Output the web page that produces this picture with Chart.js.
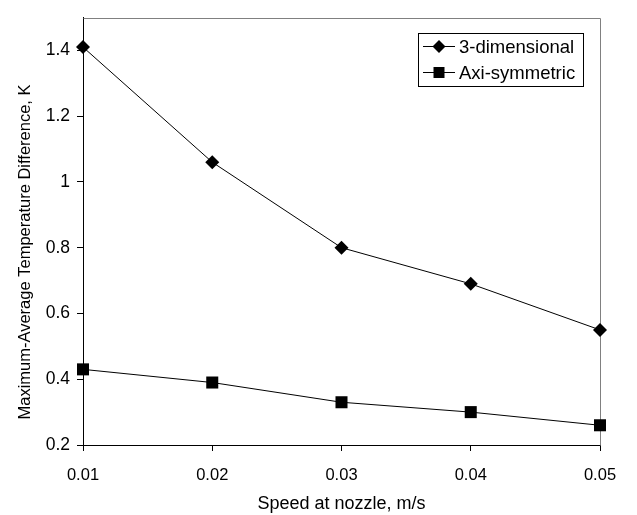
<!DOCTYPE html>
<html>
<head>
<meta charset="utf-8">
<script src="https://cdn.jsdelivr.net/npm/chart.js@4.4.0/dist/chart.umd.min.js"></script>
<style>
  html, body { margin: 0; padding: 0; background: #fff; }
  #wrap { width: 637px; height: 515px; }
</style>
</head>
<body>
<div id="wrap"><canvas id="myLineChart" width="637" height="515"></canvas></div>
<script>
// chart values
const speeds = [0.01, 0.02, 0.03, 0.04, 0.05];
const three_dim = [1.41, 1.06, 0.80, 0.69, 0.55];
const axi_sym = [0.43, 0.39, 0.33, 0.30, 0.26];
const series_names = ['3-dimensional', 'Axi-symmetric'];
const x_title = 'Speed at nozzle, m/s';
const y_title = 'Maximum-Average Temperature Difference, K';

const FONT = "'Liberation Sans', Arial, sans-serif";

function to_points(xs, ys) {
    return xs.map((x, i) => ({ x: x, y: ys[i] }));
}

// excel style numbers: 1 instead of 1.0
function short_number(val) {
    return String(parseFloat(Number(val).toFixed(4)));
}

// gray top/right frame of the plot area
const frame_plugin = {
    id: 'frame',
    beforeDatasetsDraw(chart) {
        const { ctx, chartArea: a } = chart;
        ctx.save();
        ctx.strokeStyle = '#808080';
        ctx.lineWidth = 1;
        ctx.beginPath();
        ctx.moveTo(Math.round(a.left) + 0.5, Math.round(a.top) + 0.5);
        ctx.lineTo(Math.round(a.right) + 0.5, Math.round(a.top) + 0.5);
        ctx.lineTo(Math.round(a.right) + 0.5, Math.round(a.bottom) + 0.5);
        ctx.stroke();
        ctx.restore();
    }
};

// y axis title, centred on the whole picture height like the original
const y_title_plugin = {
    id: 'yTitle',
    afterDraw(chart) {
        const { ctx } = chart;
        ctx.save();
        ctx.translate(25, 252);
        ctx.rotate(-Math.PI / 2);
        ctx.font = '16.5px ' + FONT;
        ctx.fillStyle = '#000';
        ctx.textAlign = 'center';
        ctx.textBaseline = 'middle';
        ctx.fillText(y_title, 0, 0);
        ctx.restore();
    }
};

// boxed legend inside the plot area, top right
const box_legend_plugin = {
    id: 'boxLegend',
    afterDraw(chart) {
        const { ctx } = chart;
        const x0 = 418.5, y0 = 33.5, w = 165, h = 53;
        ctx.save();
        ctx.fillStyle = '#fff';
        ctx.fillRect(x0, y0, w, h);
        ctx.strokeStyle = '#000';
        ctx.lineWidth = 1;
        ctx.strokeRect(x0, y0, w, h);
        chart.data.datasets.forEach((ds, i) => {
            const cy = 46.5 + i * 26;
            ctx.beginPath();
            ctx.moveTo(423, cy);
            ctx.lineTo(455, cy);
            ctx.strokeStyle = '#000';
            ctx.stroke();
            ctx.fillStyle = '#000';
            ctx.beginPath();
            if (ds.pointStyle === 'rectRot') {
                ctx.moveTo(439, cy - 6.5);
                ctx.lineTo(445.5, cy);
                ctx.lineTo(439, cy + 6.5);
                ctx.lineTo(432.5, cy);
                ctx.closePath();
            } else {
                ctx.rect(433.5, cy - 5.5, 11, 11);
            }
            ctx.fill();
            ctx.font = '18.5px ' + FONT;
            ctx.textBaseline = 'middle';
            ctx.textAlign = 'left';
            ctx.fillText(ds.label, 459, cy + 1);
        });
        ctx.restore();
    }
};

const ctx = document.getElementById('myLineChart').getContext('2d');

const data = {
    datasets: [{
        label: series_names[0],
        data: to_points(speeds, three_dim),
        borderColor: '#000',
        backgroundColor: '#000',
        borderWidth: 1,
        pointStyle: 'rectRot',
        pointRadius: 7,
        pointBorderWidth: 0,
        tension: 0,
        clip: false
    }, {
        label: series_names[1],
        data: to_points(speeds, axi_sym),
        borderColor: '#000',
        backgroundColor: '#000',
        borderWidth: 1,
        pointStyle: 'rect',
        pointRadius: 8.5,
        pointBorderWidth: 0,
        tension: 0,
        clip: false
    }]
};

const config = {
    type: 'line',
    data: data,
    plugins: [frame_plugin, box_legend_plugin, y_title_plugin],
    options: {
        responsive: false,
        animation: false,
        devicePixelRatio: 1,
        layout: { padding: { left: 0, top: 10, right: 37, bottom: 0 } },
        plugins: {
            legend: { display: false },
            tooltip: { enabled: false }
        },
        scales: {
            x: {
                type: 'linear',
                min: 0.01,
                max: 0.05,
                afterFit: (scale) => { scale.height = 70; },
                ticks: {
                    stepSize: 0.01,
                    includeBounds: false,
                    color: '#000',
                    padding: 15,
                    font: { family: FONT, size: 16.5 },
                    maxRotation: 0,
                    callback: (val) => short_number(val)
                },
                grid: { drawOnChartArea: false, drawTicks: true, tickLength: 6, color: '#000' },
                border: { display: true, color: '#000', width: 1 },
                title: {
                    display: true,
                    text: x_title,
                    color: '#000',
                    font: { family: FONT, size: 18 },
                    padding: { top: 0, bottom: 0 }
                }
            },
            y: {
                min: 0.2,
                max: 1.5,
                afterFit: (scale) => { scale.width = 83; },
                ticks: {
                    stepSize: 0.2,
                    includeBounds: false,
                    color: '#000',
                    padding: 7,
                    font: { family: FONT, size: 17.5 },
                    callback: (val) => short_number(val)
                },
                grid: { drawOnChartArea: false, drawTicks: true, tickLength: 6, color: '#000' },
                border: { display: true, color: '#000', width: 1 }
            }
        }
    }
};

const myChart = new Chart(ctx, config);
</script>
</body>
</html>
